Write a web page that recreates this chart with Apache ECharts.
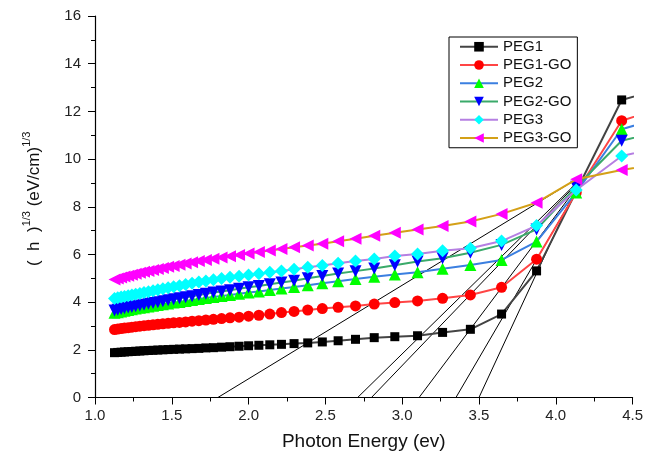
<!DOCTYPE html>
<html><head><meta charset="utf-8">
<script src="https://cdn.jsdelivr.net/npm/echarts@6/dist/echarts.min.js"></script>
<style>html,body{margin:0;padding:0;background:#fff}#c{width:646px;height:459px}</style>
</head><body><div id="c"></div>
<script>
var energy = [1.127,1.148,1.170,1.192,1.216,1.240,1.265,1.292,1.319,1.348,1.378,1.409,1.442,1.476,1.512,1.550,1.590,1.632,1.676,1.722,1.771,1.824,1.879,1.938,2.000,2.067,2.138,2.214,2.296,2.385,2.480,2.583,2.696,2.818,2.952,3.100,3.263,3.444,3.647,3.875,4.133,4.429,4.769];
var peg1 = [1.88,1.89,1.90,1.91,1.92,1.93,1.94,1.95,1.96,1.97,1.98,1.99,2.00,2.01,2.02,2.03,2.04,2.05,2.06,2.08,2.09,2.11,2.13,2.15,2.17,2.19,2.21,2.23,2.26,2.29,2.33,2.38,2.44,2.51,2.55,2.59,2.73,2.86,3.50,5.31,8.65,12.48,13.1];
var peg1go = [2.85,2.87,2.89,2.91,2.93,2.95,2.97,2.99,3.01,3.03,3.05,3.07,3.09,3.11,3.13,3.15,3.17,3.20,3.22,3.25,3.28,3.31,3.34,3.37,3.41,3.45,3.50,3.56,3.61,3.67,3.73,3.78,3.84,3.92,3.98,4.05,4.16,4.30,4.62,5.80,8.60,11.61,12.3];
var peg2 = [3.55,3.58,3.61,3.64,3.67,3.70,3.73,3.76,3.79,3.82,3.85,3.88,3.91,3.94,3.98,4.01,4.05,4.09,4.13,4.17,4.22,4.26,4.30,4.35,4.40,4.45,4.51,4.57,4.63,4.71,4.79,4.88,4.97,5.06,5.16,5.25,5.40,5.56,5.77,6.54,8.60,11.25,11.9];
var peg2go = [3.65,3.68,3.71,3.74,3.77,3.80,3.83,3.86,3.89,3.93,3.96,4.00,4.04,4.08,4.12,4.16,4.20,4.25,4.30,4.35,4.40,4.45,4.50,4.56,4.62,4.68,4.75,4.82,4.90,5.00,5.10,5.20,5.30,5.41,5.55,5.70,5.84,6.07,6.40,7.05,8.84,10.77,11.3];
var peg3 = [4.15,4.18,4.21,4.24,4.27,4.30,4.33,4.36,4.40,4.44,4.48,4.52,4.56,4.60,4.65,4.69,4.74,4.79,4.84,4.89,4.94,4.99,5.04,5.09,5.14,5.19,5.25,5.31,5.38,5.46,5.54,5.63,5.72,5.81,5.93,6.02,6.15,6.26,6.56,7.21,8.70,10.13,10.6];
var peg3go = [4.95,4.99,5.03,5.07,5.11,5.15,5.19,5.23,5.27,5.31,5.35,5.39,5.43,5.48,5.52,5.57,5.62,5.67,5.72,5.77,5.82,5.87,5.92,5.98,6.04,6.10,6.16,6.23,6.30,6.37,6.45,6.55,6.66,6.78,6.91,7.05,7.19,7.38,7.70,8.17,9.15,9.54,9.9];
var names = ['PEG1','PEG1-GO','PEG2','PEG2-GO','PEG3','PEG3-GO'];
var tanStartX = [1.80, 2.71, 2.80, 3.11, 3.35, 3.50];
var tanEndX = [4.12, 4.12, 4.12, 4.13, 4.13, 4.13];
var tanEndY = [9.10, 8.90, 8.85, 8.75, 8.60, 8.75];
var xTicks = [1.0,1.5,2.0,2.5,3.0,3.5,4.0,4.5];

function pts(arr){ return energy.map(function(e,i){ return [e, arr[i]]; }); }
var FONT = 'Arial, "Liberation Sans", sans-serif';
var styles = [
  {line:'#444444', mark:'#000000', symbol:'rect', size:9, rot:0},
  {line:'#ff4545', mark:'#ff0000', symbol:'circle', size:11, rot:0},
  {line:'#3b7fe0', mark:'#00ff00', symbol:'triangle', size:12, rot:0},
  {line:'#3aaa6a', mark:'#0000ff', symbol:'triangle', size:12, rot:180},
  {line:'#b57fe2', mark:'#00ffff', symbol:'diamond', size:13, rot:0},
  {line:'#d4a017', mark:'#ff00ff', symbol:'triangle', size:12, rot:90}
];
var dataSets = [peg1, peg1go, peg2, peg2go, peg3, peg3go];
var series = [];
for (var k=0;k<tanStartX.length;k++){
  series.push({type:'line', name:'tan'+k, data:[[tanStartX[k],0],[tanEndX[k],tanEndY[k]]],
    showSymbol:false, symbol:'none', lineStyle:{color:'#000', width:1}, z:1, silent:true});
}
dataSets.forEach(function(d,i){
  var s = styles[i];
  series.push({type:'line', name:names[i], data:pts(d), symbol:s.symbol, symbolSize:s.size, symbolRotate:s.rot,
    showAllSymbol:true, clip:true,
    lineStyle:{color:s.line, width:2}, itemStyle:{color:s.mark, borderWidth:0}, z:2+i});
});
var chart = echarts.init(document.getElementById('c'), null, {renderer:'canvas'});
chart.setOption({
  animation:false,
  backgroundColor:'#fff',
  textStyle:{fontFamily:FONT},
  grid:{left:95, right:12, top:16, bottom:61.5, containLabel:false},
  legend:{data:names, orient:'vertical', left:449, top:37, itemWidth:38, itemHeight:12, itemGap:2.75,
    padding:[2,6,2,10], borderColor:'#000', borderWidth:1, backgroundColor:'#fff',
    textStyle:{fontSize:15, color:'#111', fontFamily:FONT, lineHeight:15.5}},
  xAxis:{type:'value', min:1, max:4.5, interval:0.5,
    name:'Photon Energy (ev)', nameLocation:'middle', nameGap:35,
    nameTextStyle:{fontSize:19, color:'#111', fontFamily:FONT},
    axisLine:{lineStyle:{color:'#000', width:1.2}},
    axisTick:{show:true, inside:false, length:7, lineStyle:{color:'#000'}},
    minorTick:{show:true, splitNumber:2, length:4, lineStyle:{color:'#000'}},
    splitLine:{show:false},
    axisLabel:{fontSize:15, color:'#222', margin:11, fontFamily:FONT,
      formatter:function(v){ return xTicks.indexOf(Math.round(v*10)/10)>=0 ? v.toFixed(1) : ''; }}},
  yAxis:{type:'value', min:0, max:16, interval:2,
    name:'{a|(  h  )}{s|1/3}{a| (eV/cm)}{s|1/3}', nameLocation:'middle', nameGap:52, nameRotate:90,
    nameTextStyle:{padding:[0,0,0,16], rich:{a:{fontSize:17, color:'#111', fontFamily:FONT, verticalAlign:'bottom', lineHeight:22},
                         s:{fontSize:11, color:'#111', fontFamily:FONT, verticalAlign:'top', lineHeight:22, padding:[0,0,9,0]}}},
    axisLine:{show:true, lineStyle:{color:'#000', width:1.2}},
    axisTick:{show:true, inside:false, length:7, lineStyle:{color:'#000'}},
    minorTick:{show:true, splitNumber:2, length:4, lineStyle:{color:'#000'}},
    splitLine:{show:false},
    axisLabel:{fontSize:15, color:'#222', margin:14, fontFamily:FONT}},
  series:series
});
</script>
</body></html>
